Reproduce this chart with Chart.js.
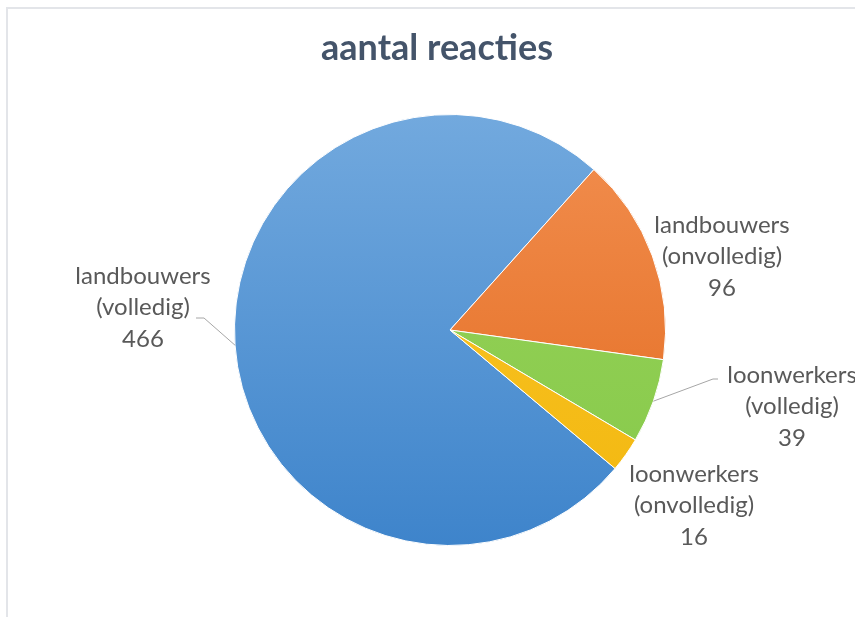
<!DOCTYPE html>
<html lang="nl">
<head>
  <meta charset="UTF-8" />
  <title>aantal reacties</title>
  <script src="https://cdn.jsdelivr.net/npm/chart.js"></script>
  <style>
    body { margin: 0; padding: 0; background: #fff; }
    .wrap { position: relative; width: 855px; height: 617px; }
    .frame {
      position: absolute; left: 6px; top: 7px; right: 0; bottom: 0;
      border-top: 2px solid #e3e5e9; border-left: 2px solid #e3e5e9;
    }
    canvas { position: absolute; left: 0; top: 0; }
  </style>
</head>
<body>
  <div class="wrap">
    <div class="frame"></div>
    <canvas id="pie" width="855" height="617"></canvas>
  </div>

  <script>
    const categories = ['landbouwers (volledig)', 'landbouwers (onvolledig)', 'loonwerkers (volledig)', 'loonwerkers (onvolledig)'];
    const values = [466, 96, 39, 16];
    const labelLines = [
      ['landbouwers', '(volledig)'],
      ['landbouwers', '(onvolledig)'],
      ['loonwerkers', '(volledig)'],
      ['loonwerkers', '(onvolledig)']
    ];

    // where each label block sits (center x, first line y) and whether it gets a leader line
    const labelPos = [
      { x: 143, y: 276, leader: [196, 318, 204, 318] },
      { x: 722, y: 225 },
      { x: 792, y: 375, leader: [718, 379, 713, 379] },
      { x: 694, y: 474 }
    ];

    const colorStops = [
      ['#72a9de', '#3e84cb'],
      ['#f28f50', '#e2691d'],
      ['#98d35a', '#86c94a'],
      ['#fbc72a', '#f2b70f']
    ];

    function sliceFill(ctx) {
      const area = ctx.chart.chartArea;
      if (!area) return colorStops[ctx.dataIndex][1];
      const g = ctx.chart.ctx.createLinearGradient(0, area.top, 0, area.bottom);
      g.addColorStop(0, colorStops[ctx.dataIndex][0]);
      g.addColorStop(1, colorStops[ctx.dataIndex][1]);
      return g;
    }

    const labelPlugin = {
      id: 'excelLabels',
      afterDatasetsDraw(chart) {
        const c = chart.ctx;
        c.save();
        // title
        c.fillStyle = '#44546a';
        c.font = 'bold 36px Lato, "Open Sans", sans-serif';
        c.textAlign = 'center';
        c.textBaseline = 'middle';
        c.fillText('aantal reacties', 437, 48);

        const arcs = chart.getDatasetMeta(0).data;
        arcs.forEach((arc, i) => {
          const p = labelPos[i];
          if (p.leader) {
            const mid = (arc.startAngle + arc.endAngle) / 2;
            const ex = arc.x + Math.cos(mid) * arc.outerRadius;
            const ey = arc.y + Math.sin(mid) * arc.outerRadius;
            c.strokeStyle = '#a6a6a6';
            c.lineWidth = 1;
            c.beginPath();
            c.moveTo(p.leader[0], p.leader[1]);
            c.lineTo(p.leader[2], p.leader[3]);
            c.lineTo(ex, ey);
            c.stroke();
          }
          c.fillStyle = '#595959';
          c.font = '24px Lato, "Open Sans", sans-serif';
          const lines = labelLines[i].concat([String(values[i])]);
          lines.forEach((t, k) => c.fillText(t, p.x, p.y + k * 31.5));
        });
        c.restore();
      }
    };

    new Chart(document.getElementById('pie'), {
      type: 'pie',
      data: {
        labels: categories,
        datasets: [{
          data: values,
          backgroundColor: sliceFill,
          borderColor: '#ffffff',
          borderWidth: 1
        }]
      },
      options: {
        responsive: false,
        animation: false,
        rotation: 130,
        layout: { padding: { top: 114, bottom: 71, left: 234, right: 189 } },
        plugins: {
          legend: { display: false },
          tooltip: { enabled: false },
          title: { display: false }
        }
      },
      plugins: [labelPlugin]
    });
  </script>
</body>
</html>
